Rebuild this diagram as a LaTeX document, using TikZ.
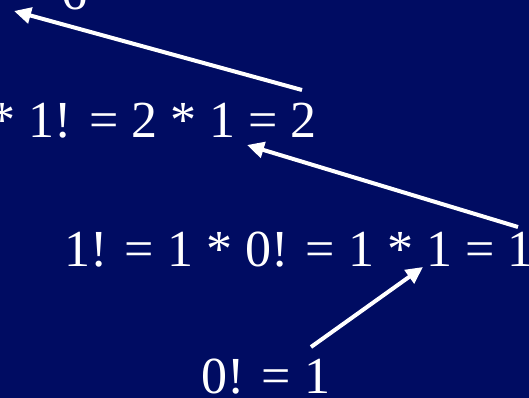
\documentclass[tikz,border=0pt]{standalone}
\usepackage{fontspec}
\setmainfont{Liberation Serif}
\usetikzlibrary{arrows.meta, positioning}
\definecolor{slidebg}{HTML}{000C62}

\begin{document}
\begin{tikzpicture}[
    x=1pt, y=1pt,
    eqn/.style={text=white, inner sep=0pt, font=\fontsize{52}{60}\selectfont},
    back/.style={-{Triangle[length=17pt, width=16pt]}, line width=4pt, white}
  ]
    % slide area
    \useasboundingbox (0,0) rectangle (529,398);
    \clip (0,0) rectangle (529,398);
    \fill[slidebg] (0,0) rectangle (529,398);

    % the lines of the unfolding
    \node[eqn, anchor=base west] (fact3) at (61,388) {6};
    \node[eqn, anchor=base east] (fact2) at (317,260) {* 1! = 2 * 1 = 2};
    \node[eqn, anchor=base west] (fact1) at (64,131) {1! = 1 * 0! = 1 * 1 = 1};
    \node[eqn, anchor=base west] (fact0) at (201,4) {0! = 1};

    % arrow ends
    \coordinate (c0) at (311,51);
    \coordinate (c1) at (423,131);
    \coordinate (b1) at (518,171);
    \coordinate (b2) at (247,253);
    \coordinate (a2) at (302,308);
    \coordinate (a3) at (14,387);

    \draw[back] (c0) -- (c1);
    \draw[back] (b1) -- (b2);
    \draw[back] (a2) -- (a3);
\end{tikzpicture}
\end{document}
